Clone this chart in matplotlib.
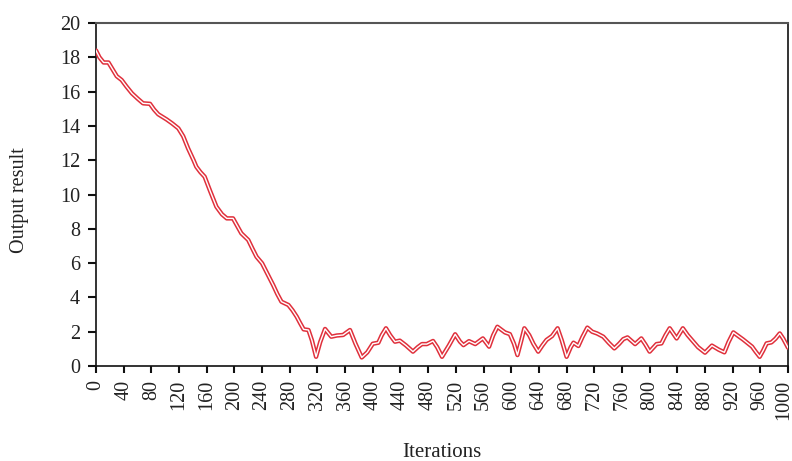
import matplotlib
matplotlib.use('Agg')
import matplotlib.pyplot as plt
import matplotlib.transforms as mtransforms
import numpy as np

# values
iterations = [0, 5, 11, 18, 24, 30, 37, 44, 52, 60, 68, 78, 84, 90, 102, 110, 119, 126, 133,
              141, 145, 151, 157, 165, 174, 182, 189, 198, 205, 210, 220, 226, 232, 240, 248,
              256, 262, 268, 278, 284, 290, 295, 300, 307, 312, 318, 324, 331, 340, 348, 357,
              367, 375, 384, 392, 400, 408, 413, 419, 425, 432, 439, 448, 458, 465, 471, 478,
              487, 493, 500, 510, 519, 526, 531, 539, 548, 559, 568, 574, 580, 591, 598, 604,
              609, 614, 619, 626, 632, 639, 645, 651, 659, 667, 673, 680, 686, 690, 697, 703,
              710, 717, 724, 733, 741, 749, 756, 762, 768, 779, 788, 794, 800, 810, 817, 823,
              829, 839, 848, 855, 861, 870, 880, 890, 900, 908, 914, 921, 935, 948, 953, 959,
              964, 969, 976, 982, 988, 993, 1000]
output = [18.4, 18.0, 17.7, 17.7, 17.3, 16.9, 16.68, 16.3, 15.9, 15.6, 15.32, 15.29, 14.95,
          14.68, 14.38, 14.15, 13.86, 13.4, 12.7, 12.0, 11.62, 11.3, 11.04, 10.2, 9.29, 8.85,
          8.61, 8.61, 8.1, 7.74, 7.35, 6.85, 6.37, 5.99, 5.35, 4.72, 4.2, 3.75, 3.56, 3.25,
          2.88, 2.5, 2.14, 2.1, 1.5, 0.54, 1.4, 2.16, 1.71, 1.78, 1.81, 2.1, 1.3, 0.5, 0.8,
          1.3, 1.36, 1.8, 2.2, 1.8, 1.42, 1.48, 1.2, 0.84, 1.1, 1.28, 1.28, 1.46, 1.1, 0.54,
          1.2, 1.85, 1.42, 1.22, 1.45, 1.28, 1.61, 1.13, 1.8, 2.29, 1.96, 1.86, 1.3, 0.64,
          1.4, 2.2, 1.8, 1.3, 0.84, 1.2, 1.52, 1.75, 2.2, 1.5, 0.54, 1.1, 1.36, 1.17, 1.7,
          2.24, 2.0, 1.9, 1.71, 1.35, 1.03, 1.3, 1.57, 1.67, 1.28, 1.61, 1.25, 0.84, 1.28,
          1.32, 1.8, 2.2, 1.61, 2.2, 1.8, 1.52, 1.1, 0.78, 1.19, 0.95, 0.8, 1.4, 1.96, 1.55,
          1.13, 0.85, 0.54, 0.9, 1.32, 1.38, 1.6, 1.9, 1.6, 1.07]
xticks = list(range(0, 1001, 40))
yticks = list(range(0, 21, 2))

plt.rcParams['font.family'] = ['Liberation Serif', 'DejaVu Serif']

fig = plt.figure(figsize=(7.92, 4.61), dpi=100)
ax = fig.add_axes([0.1212, 0.206, 0.8738, 0.744])

ax.plot(iterations, output, color='#e0303c', lw=3.2, solid_capstyle='round',
        solid_joinstyle='round', zorder=3)
ax.plot(iterations, output, color='white', lw=1.0, solid_joinstyle='round', zorder=4)

ax.set_xlim(0, 1000)
ax.set_ylim(0, 20)
ax.set_xticks(xticks)
ax.set_yticks(yticks)
ax.set_xticklabels([str(t) for t in xticks], rotation=90, fontsize=14.5, color='#222222')
ax.set_yticklabels([str(t) for t in yticks], fontsize=14.5, color='#222222')
ax.tick_params(axis='x', direction='out', length=5, width=1.5, color='#111111', pad=5)
ax.tick_params(axis='y', direction='out', length=5.5, width=1.5, color='#111111', pad=6)

# keep the last tick label inside the picture
last = ax.get_xticklabels()[-1]
last.set_transform(last.get_transform() +
                   mtransforms.ScaledTranslation(-3 / 72, 0, fig.dpi_scale_trans))

for s in ['left', 'bottom', 'right']:
    ax.spines[s].set_linewidth(1.2)
    ax.spines[s].set_color('#111111')
ax.spines['top'].set_linewidth(1.5)
ax.spines['top'].set_color('#555555')

fig.text(442 / 792, 1 - 452 / 461, 'Iterations', fontsize=15, color='#222222',
         ha='center', va='center')
fig.text(20 / 792, 1 - 200 / 461, 'Output result', fontsize=14.5, color='#222222',
         ha='center', va='center', rotation=90)

fig.savefig('out.png', dpi=100)
